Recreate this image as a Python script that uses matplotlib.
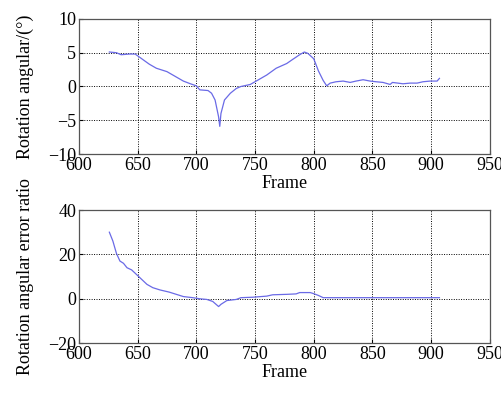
import matplotlib
matplotlib.use("Agg")
import matplotlib.pyplot as plt

plt.rcParams['font.family'] = ['Liberation Serif', 'DejaVu Serif']

# Top: rotation angular
frames_top = [626, 632, 636, 643, 648, 652, 660, 666, 675, 683, 689, 695, 700, 703,
              710, 713, 716, 719, 720, 721, 724, 729, 734, 738, 746, 754, 760, 768,
              777, 782, 788, 792, 795, 800, 804, 808, 811, 814, 819, 825, 831, 836,
              842, 848, 853, 859, 865, 867, 876, 882, 888, 893, 899, 905, 907]
angle_top = [5.1, 5.0, 4.7, 4.8, 4.8, 4.3, 3.3, 2.7, 2.2, 1.4, 0.8, 0.4, 0.1, -0.5,
             -0.6, -1.0, -2.0, -4.5, -5.9, -4.0, -2.0, -1.0, -0.3, 0.0, 0.3, 1.1, 1.7, 2.7,
             3.4, 4.0, 4.7, 5.1, 4.9, 4.1, 2.3, 0.9, 0.1, 0.5, 0.7, 0.8, 0.6, 0.8,
             1.0, 0.8, 0.7, 0.6, 0.3, 0.6, 0.4, 0.5, 0.5, 0.7, 0.8, 0.8, 1.2]

# Bottom: rotation angular error ratio
frames_bot = [626, 629, 632, 635, 638, 641, 645, 649, 653, 658, 663, 669, 677, 683,
              689, 697, 703, 709, 714, 719, 721, 726, 734, 738, 748, 760, 765, 777,
              785, 788, 797, 800, 804, 808, 830, 860, 890, 907]
ratio_bot = [30, 26, 20.5, 17, 16, 14, 13, 11, 9, 6.5, 5, 4, 3, 2,
             1, 0.5, 0, -0.3, -1.2, -3.5, -2.5, -0.8, -0.3, 0.5, 0.7, 1.2, 1.8, 2.0,
             2.2, 2.8, 2.8, 2.3, 1.5, 0.5, 0.5, 0.5, 0.5, 0.5]

xticks = [600, 650, 700, 750, 800, 850, 900, 950]
yticks_top = [-10, -5, 0, 5, 10]
yticks_bot = [-20, 0, 20, 40]

line_color = '#6a6ae6'
fs = 13

fig = plt.figure(figsize=(5.02, 3.94), dpi=100)
ax1 = fig.add_axes([0.157, 0.609, 0.819, 0.343])
ax2 = fig.add_axes([0.157, 0.129, 0.819, 0.338])

for ax, x, y, yt, ylab in [
        (ax1, frames_top, angle_top, yticks_top, 'Rotation angular/(°)'),
        (ax2, frames_bot, ratio_bot, yticks_bot, 'Rotation angular error ratio')]:
    ax.plot(x, y, color=line_color, lw=0.9)
    ax.set_xlim(600, 950)
    ax.set_ylim(yt[0], yt[-1])
    ax.set_xticks(xticks)
    ax.set_yticks(yt)
    ax.grid(True, color='black', linestyle=(0, (1, 1.5)), linewidth=0.7)
    ax.tick_params(direction='in', length=3, labelsize=fs, pad=2)
    ax.set_xlabel('Frame', fontsize=fs, labelpad=1)
    ax.set_ylabel(ylab, fontsize=fs, labelpad=10)
    for sp in ax.spines.values():
        sp.set_color('#555555')
        sp.set_linewidth(0.9)

fig.savefig('out.png', dpi=100)
